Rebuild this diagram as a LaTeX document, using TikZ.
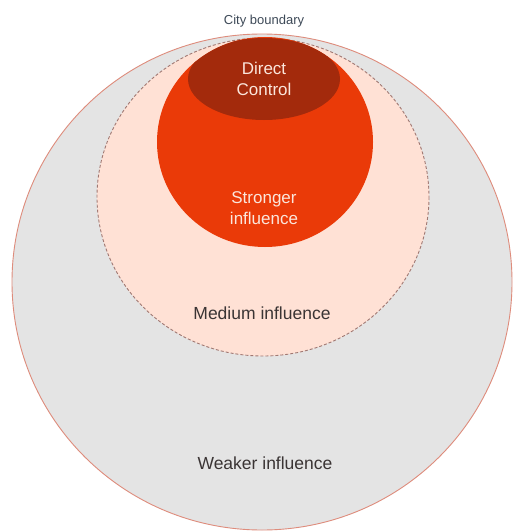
\documentclass[tikz,border=0pt]{standalone}
\usepackage{fontspec}
\setmainfont{Liberation Sans}
\definecolor{outerfill}{HTML}{E4E4E4}
\definecolor{outerline}{HTML}{DE8C7C}
\definecolor{medfill}{HTML}{FFE1D5}
\definecolor{medline}{HTML}{A07872}
\definecolor{strongfill}{HTML}{EA3A08}
\definecolor{directfill}{HTML}{A32A0C}
\definecolor{darktext}{HTML}{3A3434}
\definecolor{citytext}{HTML}{3E4A58}
\definecolor{lighttext}{HTML}{FBE6DC}
\tikzset{
  zone/.style={inner sep=0pt, align=center},
  lightlbl/.style={zone, text=lighttext, font=\fontsize{17}{21}\selectfont},
  darklbl/.style={zone, text=darktext, font=\fontsize{17.5}{21}\selectfont},
}
\begin{document}
\begin{tikzpicture}[x=1pt,y=-1pt]
\useasboundingbox (0,0) rectangle (513,532);
\fill[white] (0,0) rectangle (513,532);
% outer
\path[fill=outerfill, draw=outerline, line width=0.9pt] (262,282) ellipse [x radius=250, y radius=248];
% medium
\path[fill=medfill, draw=medline, line width=0.9pt, dash pattern=on 3pt off 2pt] (263,197) ellipse [x radius=166, y radius=159];
% stronger
\path[fill=strongfill] (265,142) ellipse [x radius=108, y radius=105];
% direct
\begin{scope}
\clip (265,142) ellipse [x radius=108, y radius=105];
\fill[directfill] (264,79) ellipse [x radius=76, y radius=41];
\end{scope}
\node[zone, text=citytext, font=\fontsize{13}{15}\selectfont] (city) at (264,21) {City boundary};
\node[lightlbl] (direct) at (264,79) {Direct\\Control};
\node[lightlbl] (stronger) at (264,208) {Stronger\\influence};
\node[darklbl] (medium) at (262,313) {Medium influence};
\node[darklbl] (weaker) at (265,463) {Weaker influence};
\end{tikzpicture}
\end{document}
